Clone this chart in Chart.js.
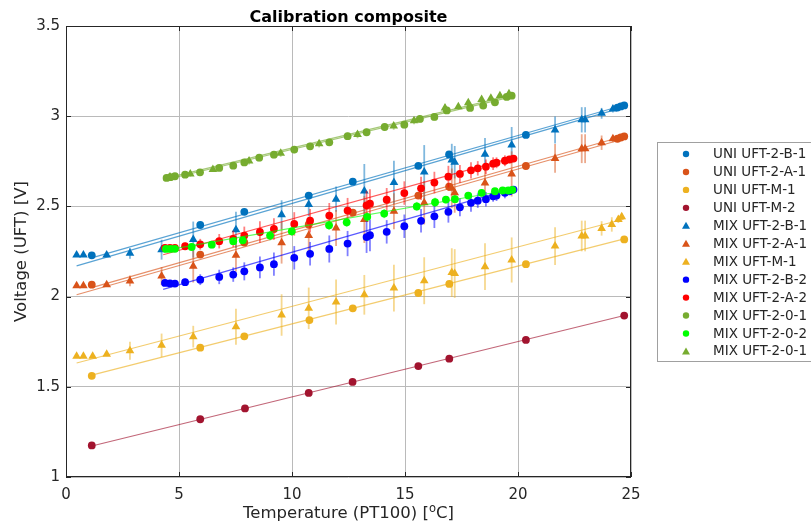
<!DOCTYPE html>
<html><head><meta charset="utf-8">
<script src="https://cdn.jsdelivr.net/npm/chart.js@4/dist/chart.umd.min.js"></script>
<style>html,body{margin:0;padding:0;background:#fff;overflow:hidden}canvas{display:block}</style>
</head><body>
<canvas id="c" width="811" height="530"></canvas>
<script>
// ---------- axis ticks ----------
const xTicks = [0, 5, 10, 15, 20, 25];
const yTicks = [1, 1.5, 2, 2.5, 3, 3.5];
const xTickLabels = ['0', '5', '10', '15', '20', '25'];
const yTickLabels = ['1', '1.5', '2', '2.5', '3', '3.5'];
const chartTitle = 'Calibration composite';

// ---------- series names ----------
const seriesNames = ['UNI UFT-2-B-1', 'UNI UFT-2-A-1', 'UNI UFT-M-1', 'UNI UFT-M-2',
  'MIX UFT-2-B-1', 'MIX UFT-2-A-1', 'MIX UFT-M-1', 'MIX UFT-2-B-2', 'MIX UFT-2-A-2',
  'MIX UFT-2-0-1', 'MIX UFT-2-0-2', 'MIX UFT-2-0-1'];

// ---------- data (temperature, voltage, error) ----------
const uniB1X = [1.14, 5.94, 7.89, 10.74, 12.69, 15.59, 16.95, 20.35, 24.4, 24.55, 24.7];
const uniB1Y = [2.229, 2.397, 2.47, 2.56, 2.637, 2.725, 2.788, 2.896, 3.048, 3.054, 3.06];
const uniB1FitX = [1.14, 24.7];
const uniB1FitY = [2.215, 3.062];

const uniA1X = [1.14, 5.94, 7.89, 10.74, 12.69, 15.59, 16.95, 20.35, 24.4, 24.55, 24.7];
const uniA1Y = [2.066, 2.233, 2.30, 2.40, 2.466, 2.56, 2.61, 2.724, 2.875, 2.882, 2.888];
const uniA1FitX = [1.14, 24.7];
const uniA1FitY = [2.05, 2.89];

const uniM1X = [1.14, 5.94, 7.89, 10.77, 12.69, 15.59, 16.96, 20.35, 24.7];
const uniM1Y = [1.561, 1.717, 1.78, 1.87, 1.935, 2.02, 2.07, 2.18, 2.317];
const uniM1FitX = [1.14, 24.7];
const uniM1FitY = [1.565, 2.32];

const uniM2X = [1.14, 5.94, 7.92, 10.74, 12.68, 15.59, 16.96, 20.35, 24.7];
const uniM2Y = [1.175, 1.32, 1.38, 1.466, 1.527, 1.615, 1.656, 1.76, 1.895];
const uniM2FitX = [1.14, 24.7];
const uniM2FitY = [1.172, 1.895];

const mixB1X = [0.47, 0.77, 1.8, 2.83, 4.23, 5.63, 7.52, 9.54, 10.74, 11.95, 13.2, 14.51, 15.85, 17.07, 17.2, 18.54, 19.72, 21.64, 22.82, 22.97, 23.7, 24.2];
const mixB1Y = [2.23, 2.23, 2.23, 2.24, 2.26, 2.316, 2.37, 2.454, 2.51, 2.54, 2.585, 2.633, 2.69, 2.757, 2.745, 2.789, 2.84, 2.923, 2.98, 2.98, 3.016, 3.04];
const mixB1E = [0.005, 0.005, 0.01, 0.03, 0.055, 0.1, 0.1, 0.08, 0.065, 0.07, 0.15, 0.12, 0.15, 0.09, 0.09, 0.09, 0.1, 0.075, 0.07, 0.07, 0.03, 0.02];
const mixB1FitX = [0.47, 24.7];
const mixB1FitY = [2.17, 3.05];

const mixA1X = [0.47, 0.77, 1.8, 2.83, 4.23, 5.63, 7.52, 9.54, 10.74, 11.95, 13.2, 14.51, 15.85, 17.07, 17.2, 18.54, 19.72, 21.64, 22.82, 22.97, 23.7, 24.2];
const mixA1Y = [2.06, 2.06, 2.066, 2.087, 2.114, 2.168, 2.229, 2.298, 2.338, 2.38, 2.427, 2.473, 2.52, 2.60, 2.575, 2.63, 2.68, 2.766, 2.82, 2.82, 2.853, 2.875];
const mixA1E = [0.005, 0.005, 0.01, 0.03, 0.05, 0.09, 0.09, 0.115, 0.1, 0.1, 0.13, 0.1, 0.12, 0.11, 0.11, 0.09, 0.125, 0.08, 0.08, 0.08, 0.04, 0.02];
const mixA1FitX = [0.47, 24.7];
const mixA1FitY = [2.01, 2.875];

const mixM1X = [0.47, 0.77, 1.18, 1.8, 2.83, 4.23, 5.63, 7.52, 9.54, 10.74, 11.95, 13.2, 14.51, 15.85, 17.07, 17.2, 18.54, 19.72, 21.64, 22.82, 22.97, 23.7, 24.15, 24.44, 24.59];
const mixM1Y = [1.67, 1.67, 1.67, 1.68, 1.70, 1.73, 1.778, 1.833, 1.898, 1.935, 1.97, 2.01, 2.047, 2.088, 2.133, 2.128, 2.166, 2.203, 2.28, 2.336, 2.336, 2.378, 2.40, 2.428, 2.443];
const mixM1E = [0.005, 0.005, 0.005, 0.01, 0.05, 0.065, 0.06, 0.1, 0.115, 0.115, 0.125, 0.11, 0.13, 0.13, 0.135, 0.135, 0.13, 0.125, 0.105, 0.085, 0.085, 0.04, 0.04, 0.02, 0.02];
const mixM1FitX = [0.47, 24.7];
const mixM1FitY = [1.632, 2.43];

const mixB2X = [4.38, 4.6, 4.82, 5.27, 5.94, 6.78, 7.4, 7.89, 8.58, 9.2, 10.1, 10.8, 11.65, 12.46, 13.3, 13.45, 14.19, 14.97, 15.71, 16.3, 16.92, 17.43, 17.92, 18.22, 18.58, 18.9, 19.05, 19.42, 19.62, 19.8];
const mixB2Y = [2.076, 2.073, 2.072, 2.08, 2.094, 2.109, 2.122, 2.14, 2.162, 2.18, 2.215, 2.237, 2.264, 2.294, 2.33, 2.34, 2.359, 2.39, 2.42, 2.445, 2.47, 2.495, 2.52, 2.532, 2.54, 2.556, 2.56, 2.575, 2.584, 2.593];
const mixB2E = [0.015, 0.015, 0.015, 0.02, 0.03, 0.04, 0.04, 0.05, 0.06, 0.065, 0.065, 0.065, 0.075, 0.07, 0.088, 0.088, 0.065, 0.065, 0.065, 0.065, 0.06, 0.05, 0.05, 0.04, 0.04, 0.03, 0.03, 0.03, 0.02, 0.02];
const mixB2FitX = [4.3, 19.8];
const mixB2FitY = [2.04, 2.60];

const mixA2X = [4.38, 4.6, 4.82, 5.27, 5.94, 6.78, 7.4, 7.89, 8.58, 9.2, 10.1, 10.8, 11.65, 12.46, 13.3, 13.45, 14.19, 14.97, 15.71, 16.3, 16.92, 17.43, 17.92, 18.22, 18.58, 18.9, 19.05, 19.42, 19.62, 19.8];
const mixA2Y = [2.27, 2.27, 2.27, 2.279, 2.29, 2.307, 2.32, 2.338, 2.358, 2.375, 2.403, 2.421, 2.449, 2.477, 2.506, 2.515, 2.537, 2.574, 2.6, 2.632, 2.665, 2.68, 2.70, 2.711, 2.72, 2.737, 2.742, 2.753, 2.76, 2.765];
const mixA2E = [0.015, 0.015, 0.015, 0.02, 0.03, 0.04, 0.045, 0.05, 0.06, 0.06, 0.065, 0.065, 0.07, 0.07, 0.08, 0.08, 0.065, 0.065, 0.065, 0.06, 0.06, 0.05, 0.045, 0.04, 0.04, 0.035, 0.03, 0.03, 0.02, 0.02];
const mixA2FitX = [4.3, 19.8];
const mixA2FitY = [2.232, 2.772];

const mix01X = [4.45, 4.62, 4.82, 5.27, 5.93, 6.78, 7.4, 7.89, 8.55, 9.2, 10.1, 10.8, 11.65, 12.46, 13.3, 14.1, 14.97, 15.66, 16.3, 16.85, 17.88, 18.46, 18.98, 19.5, 19.72];
const mix01Y = [2.658, 2.662, 2.667, 2.676, 2.689, 2.713, 2.726, 2.744, 2.77, 2.787, 2.815, 2.833, 2.855, 2.889, 2.911, 2.94, 2.953, 2.985, 2.996, 3.032, 3.046, 3.059, 3.077, 3.107, 3.114];
const mix01E = [0.01, 0.01, 0.01, 0.01, 0.015, 0.015, 0.015, 0.015, 0.02, 0.02, 0.02, 0.02, 0.02, 0.02, 0.02, 0.02, 0.02, 0.02, 0.02, 0.02, 0.015, 0.015, 0.015, 0.01, 0.01];
const mix01FitX = [4.3, 19.8];
const mix01FitY = [2.653, 3.118];

const mix02X = [4.42, 4.62, 4.82, 5.56, 6.45, 7.4, 7.82, 9.03, 9.99, 11.64, 12.42, 13.33, 14.08, 15.52, 16.33, 16.81, 17.21, 17.8, 18.39, 18.98, 19.32, 19.57, 19.75];
const mix02Y = [2.264, 2.264, 2.265, 2.275, 2.288, 2.307, 2.312, 2.338, 2.362, 2.395, 2.412, 2.442, 2.46, 2.50, 2.523, 2.538, 2.54, 2.56, 2.575, 2.584, 2.588, 2.588, 2.592];
const mix02E = [0.01, 0.01, 0.01, 0.015, 0.02, 0.02, 0.02, 0.025, 0.025, 0.025, 0.025, 0.025, 0.025, 0.025, 0.025, 0.02, 0.02, 0.02, 0.02, 0.015, 0.015, 0.015, 0.01];
const mix02FitX = [4.3, 19.8];
const mix02FitY = [2.255, 2.595];

const mix01bX = [4.6, 5.5, 6.5, 8.1, 9.5, 11.2, 12.9, 14.5, 15.4, 16.77, 17.36, 17.8, 18.39, 18.8, 19.2, 19.6];
const mix01bY = [2.663, 2.68, 2.705, 2.752, 2.795, 2.847, 2.898, 2.945, 2.975, 3.046, 3.052, 3.074, 3.092, 3.1, 3.114, 3.124];
const mix01bE = [0.01, 0.015, 0.015, 0.02, 0.02, 0.02, 0.02, 0.02, 0.02, 0.02, 0.015, 0.015, 0.015, 0.01, 0.01, 0.01];
const mix01bFitX = [4.3, 19.8];
const mix01bFitY = [2.645, 3.11];

// ---------- styles (kept separate from data) ----------
const seriesColors = ['#0072BD', '#D95319', '#EDB120', '#A2142F', '#0072BD', '#D95319', '#EDB120',
  '#0000FF', '#FF0000', '#77AC30', '#00FF00', '#77AC30'];
const seriesShapes = ['circle', 'circle', 'circle', 'circle', 'triangle', 'triangle', 'triangle',
  'circle', 'circle', 'circle', 'circle', 'triangle'];

const seriesData = [
  [uniB1X, uniB1Y, null, uniB1FitX, uniB1FitY],
  [uniA1X, uniA1Y, null, uniA1FitX, uniA1FitY],
  [uniM1X, uniM1Y, null, uniM1FitX, uniM1FitY],
  [uniM2X, uniM2Y, null, uniM2FitX, uniM2FitY],
  [mixB1X, mixB1Y, mixB1E, mixB1FitX, mixB1FitY],
  [mixA1X, mixA1Y, mixA1E, mixA1FitX, mixA1FitY],
  [mixM1X, mixM1Y, mixM1E, mixM1FitX, mixM1FitY],
  [mixB2X, mixB2Y, mixB2E, mixB2FitX, mixB2FitY],
  [mixA2X, mixA2Y, mixA2E, mixA2FitX, mixA2FitY],
  [mix01X, mix01Y, mix01E, mix01FitX, mix01FitY],
  [mix02X, mix02Y, mix02E, mix02FitX, mix02FitY],
  [mix01bX, mix01bY, mix01bE, mix01bFitX, mix01bFitY]
];

function rgba(hex, a) {
  const n = parseInt(hex.slice(1), 16);
  return 'rgba(' + ((n >> 16) & 255) + ',' + ((n >> 8) & 255) + ',' + (n & 255) + ',' + a + ')';
}

const datasets = [];
seriesData.forEach((s, i) => {
  const [xs, ys, es, fx, fy] = s;
  const col = seriesColors[i];
  const tri = seriesShapes[i] === 'triangle';
  datasets.push({
    label: seriesNames[i], isMain: true, seriesIndex: i, errors: es,
    data: xs.map((x, k) => ({ x: x, y: ys[k] })),
    showLine: false, pointStyle: seriesShapes[i],
    pointRadius: tri ? 5 : 3.9, pointBackgroundColor: col, pointBorderColor: col, pointBorderWidth: 0,
    order: 1000 - 10 * i
  });
  datasets.push({
    label: seriesNames[i] + ' fit', isMain: false,
    data: fx.map((x, k) => ({ x: x, y: fy[k] })),
    showLine: true, pointRadius: 0, borderColor: rgba(col, 0.65), borderWidth: 1.2,
    order: 1000 - 10 * i - 1
  });
});

const TXT = '#262626';
const FONT = 'DejaVu Sans';

const decor = {
  id: 'decor',
  beforeDatasetDraw(chart, args) {
    const ds = chart.data.datasets[args.index];
    if (!ds.isMain || !ds.errors) return;
    const ctx = chart.ctx, xs = chart.scales.x, ys = chart.scales.y;
    const ca = chart.chartArea;
    ctx.save();
    ctx.beginPath(); ctx.rect(ca.left, ca.top, ca.right - ca.left, ca.bottom - ca.top); ctx.clip();
    ctx.strokeStyle = rgba(seriesColors[ds.seriesIndex], 0.5);
    ctx.lineWidth = 1.8;
    ds.data.forEach((p, k) => {
      const e = ds.errors[k];
      const px = xs.getPixelForValue(p.x);
      ctx.beginPath();
      ctx.moveTo(px, ys.getPixelForValue(p.y - e));
      ctx.lineTo(px, ys.getPixelForValue(p.y + e));
      ctx.stroke();
    });
    ctx.restore();
  },
  afterDraw(chart) {
    const ctx = chart.ctx, ca = chart.chartArea;
    const xs = chart.scales.x, ys = chart.scales.y;
    ctx.save();
    // box
    ctx.strokeStyle = TXT; ctx.lineWidth = 1;
    ctx.strokeRect(Math.round(ca.left) + 0.5, Math.round(ca.top) + 0.5, Math.round(ca.right - ca.left) - 1, Math.round(ca.bottom - ca.top) - 1);
    // inward ticks
    const tl = 5;
    ctx.beginPath();
    xTicks.forEach(v => {
      const px = Math.round(xs.getPixelForValue(v)) + 0.5;
      ctx.moveTo(px, ca.bottom); ctx.lineTo(px, ca.bottom - tl);
      ctx.moveTo(px, ca.top); ctx.lineTo(px, ca.top + tl);
    });
    yTicks.forEach(v => {
      const py = Math.round(ys.getPixelForValue(v)) + 0.5;
      ctx.moveTo(ca.left, py); ctx.lineTo(ca.left + tl, py);
      ctx.moveTo(ca.right, py); ctx.lineTo(ca.right - tl, py);
    });
    ctx.stroke();
    // title
    ctx.fillStyle = '#000';
    ctx.font = 'bold 16px "' + FONT + '"';
    ctx.textAlign = 'center'; ctx.textBaseline = 'alphabetic';
    ctx.fillText(chartTitle, (ca.left + ca.right) / 2, 22);
    // x axis title with superscript
    ctx.fillStyle = TXT;
    const f1 = '16.5px "' + FONT + '"', f2 = '11.5px "' + FONT + '"';
    const p1 = 'Temperature (PT100) [', p2 = 'o', p3 = 'C]';
    ctx.font = f1; const w1 = ctx.measureText(p1).width, w3 = ctx.measureText(p3).width;
    ctx.font = f2; const w2 = ctx.measureText(p2).width;
    let sx = (ca.left + ca.right) / 2 - (w1 + w2 + w3) / 2;
    const by = 518;
    ctx.textAlign = 'left';
    ctx.font = f1; ctx.fillText(p1, sx, by); sx += w1;
    ctx.font = f2; ctx.fillText(p2, sx, by - 6); sx += w2;
    ctx.font = f1; ctx.fillText(p3, sx, by);
    // y axis title
    ctx.save();
    ctx.translate(26, (ca.top + ca.bottom) / 2);
    ctx.rotate(-Math.PI / 2);
    ctx.textAlign = 'center';
    ctx.font = f1;
    ctx.fillText('Voltage (UFT) [V]', 0, 0);
    ctx.restore();
    // legend
    const lx = 657.5, ly = 142.5, lw = 170, lh = 219;
    ctx.fillStyle = '#fff';
    ctx.fillRect(lx, ly, lw, lh);
    ctx.strokeStyle = '#a0a0a0'; ctx.lineWidth = 1;
    ctx.strokeRect(lx, ly, lw, lh);
    ctx.font = '13.5px "' + FONT + '"';
    ctx.textAlign = 'left'; ctx.textBaseline = 'middle';
    const mains = chart.data.datasets.filter(d => d.isMain);
    mains.forEach((d, k) => {
      const y = 154 + k * 17.95;
      const col = seriesColors[d.seriesIndex];
      ctx.fillStyle = col;
      if (seriesShapes[d.seriesIndex] === 'triangle') {
        ctx.beginPath();
        ctx.moveTo(686, y - 4); ctx.lineTo(690, y + 3); ctx.lineTo(682, y + 3); ctx.closePath(); ctx.fill();
      } else {
        ctx.beginPath(); ctx.arc(686, y, 3.2, 0, Math.PI * 2); ctx.fill();
      }
      ctx.fillStyle = TXT;
      ctx.fillText(d.label, 713, y + 0.5);
    });
    ctx.restore();
  }
};

new Chart(document.getElementById('c'), {
  type: 'scatter',
  data: { datasets: datasets },
  options: {
    responsive: false, animation: false, devicePixelRatio: 1,
    layout: { padding: { left: 0, right: 180, top: 26, bottom: 0 } },
    plugins: { legend: { display: false }, title: { display: false }, tooltip: { enabled: false } },
    scales: {
      x: {
        type: 'linear', min: 0, max: 25,
        afterBuildTicks(s) { s.ticks = xTicks.map(v => ({ value: v })); },
        afterFit(s) { s.height = 53; },
        ticks: { callback: v => xTickLabels[xTicks.indexOf(v)], color: TXT, font: { family: FONT, size: 15 }, padding: 9, maxRotation: 0, autoSkip: false },
        grid: { color: '#bababa', drawTicks: false, lineWidth: 1 },
        border: { display: false }
      },
      y: {
        type: 'linear', min: 1, max: 3.5,
        afterBuildTicks(s) { s.ticks = yTicks.map(v => ({ value: v })); },
        afterFit(s) { s.width = 66; },
        ticks: { callback: v => yTickLabels[yTicks.indexOf(v)], color: TXT, font: { family: FONT, size: 15 }, padding: 6, autoSkip: false },
        grid: { color: '#bababa', drawTicks: false, lineWidth: 1 },
        border: { display: false }
      }
    }
  },
  plugins: [decor]
});
</script>
</body></html>
